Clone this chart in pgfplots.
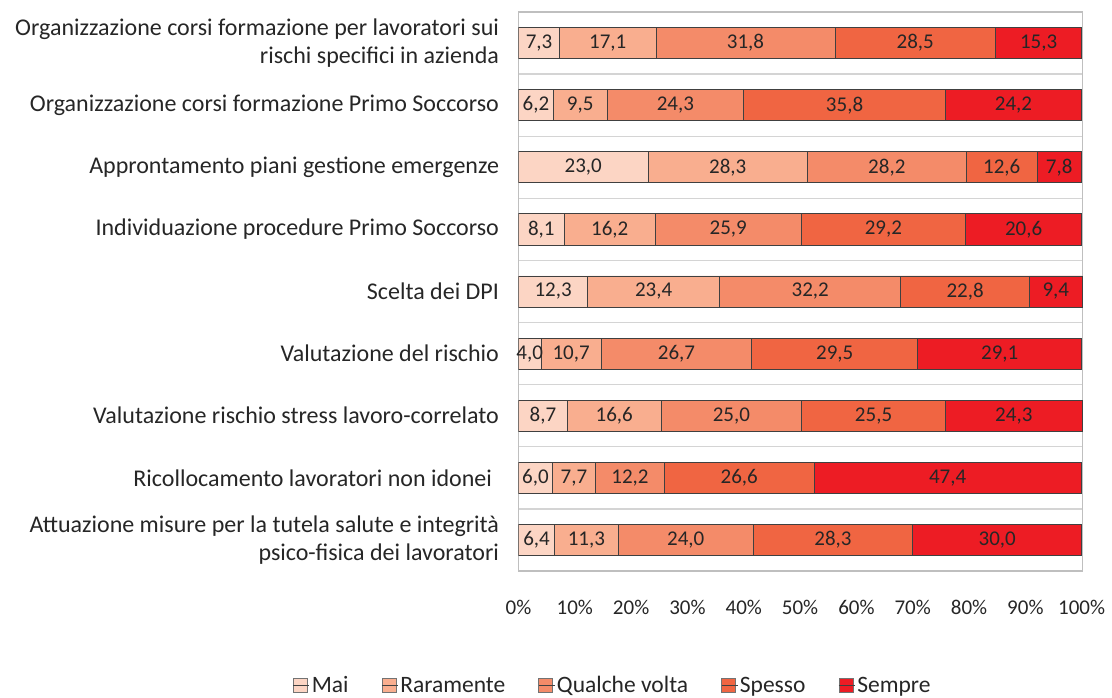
\documentclass[border=0pt]{standalone}
\usepackage{pgfplots}
\usepackage{pgfplotstable}
\pgfplotsset{compat=1.18}
\usepackage{fontspec}
\setmainfont{Carlito}
\definecolor{cMai}{HTML}{FCD5C4}
\definecolor{cRar}{HTML}{F9AE8F}
\definecolor{cQua}{HTML}{F48B69}
\definecolor{cSpe}{HTML}{F06542}
\definecolor{cSem}{HTML}{ED1C24}
\definecolor{txt}{HTML}{262626}
\newcommand{\cfont}{\fontsize{21}{28}\selectfont}
\newcommand{\lfont}{\fontsize{24}{28}\selectfont}
\pgfplotstableread{
c mai rar qua spe sem
0 7.3 17.1 31.8 28.5 15.3
1 6.2 9.5 24.3 35.8 24.2
2 23.0 28.3 28.2 12.6 7.8
3 8.1 16.2 25.9 29.2 20.6
4 12.3 23.4 32.2 22.8 9.4
5 4.0 10.7 26.7 29.5 29.1
6 8.7 16.6 25.0 25.5 24.3
7 6.0 7.7 12.2 26.6 47.4
8 6.4 11.3 24.0 28.3 30.0
}\datatable
\begin{document}
\begin{tikzpicture}
\begin{axis}[
  at={(518.5pt,-571pt)}, anchor=south west,
  scale only axis, width=564.3pt, height=559pt,
  xbar stacked, bar width=0.5,
  xmin=0, xmax=100.2, ymin=-0.5, ymax=8.5, y dir=reverse,
  ytick={0,...,8},
  yticklabels={{Organizzazione corsi formazione per lavoratori sui\\rischi specifici in azienda},
    {Organizzazione corsi formazione Primo Soccorso},
    {Approntamento piani gestione emergenze},
    {Individuazione procedure Primo Soccorso},
    {Scelta dei DPI},
    {Valutazione del rischio},
    {Valutazione rischio stress lavoro-correlato},
    {Ricollocamento lavoratori non idonei\hspace{7pt}},
    {Attuazione misure per la tutela salute e integrità\\psico-fisica dei lavoratori}},
  minor ytick={0.5,1.5,...,7.5},
  yminorgrids=true,
  minor grid style={color=black!17, line width=1.3pt},
  xtick={0,10,...,100},
  xticklabel={\pgfmathprintnumber{\tick}\%},
  /pgf/number format/assume math mode=true,
  major tick length=0pt, minor tick length=0pt,
  axis line style={color=black!25, line width=1.2pt},
  tick label style={text=txt},
  xticklabel style={font=\cfont, yshift=-26pt},
  yticklabel style={font=\lfont, align=right, xshift=-16pt},
  nodes near coords={\pgfmathprintnumber[fixed,fixed zerofill,precision=1,use comma,assume math mode=true]{\rawx}},
  nodes near coords align=center,
  every node near coord/.append style={anchor=center, font=\cfont, text=txt},
  every axis plot/.append style={draw=black!75, line width=0.8pt},
  legend style={at={(0.167,-0.2045)}, anchor=center, draw=none, font=\fontsize{23.5}{28}\selectfont, text=txt,
    legend columns=5, /tikz/every even column/.append style={column sep=31pt}},
  legend image code/.code={\draw[#1, draw=black!55, line width=0.7pt] (0pt,-7pt) rectangle (14pt,7pt); \path (0pt,0pt) -- (16pt,0pt);},
]
\addplot[fill=cMai, visualization depends on=\thisrow{mai} \as \rawx] table[x=mai, y=c] {\datatable};
\addplot[fill=cRar, visualization depends on=\thisrow{rar} \as \rawx] table[x=rar, y=c] {\datatable};
\addplot[fill=cQua, visualization depends on=\thisrow{qua} \as \rawx] table[x=qua, y=c] {\datatable};
\addplot[fill=cSpe, visualization depends on=\thisrow{spe} \as \rawx] table[x=spe, y=c] {\datatable};
\addplot[fill=cSem, visualization depends on=\thisrow{sem} \as \rawx] table[x=sem, y=c] {\datatable};
\legend{Mai,Raramente,Qualche volta,Spesso,Sempre}
\end{axis}
\pgfresetboundingbox
\path (0,0) rectangle (1112pt,-698pt);
\end{tikzpicture}
\end{document}
